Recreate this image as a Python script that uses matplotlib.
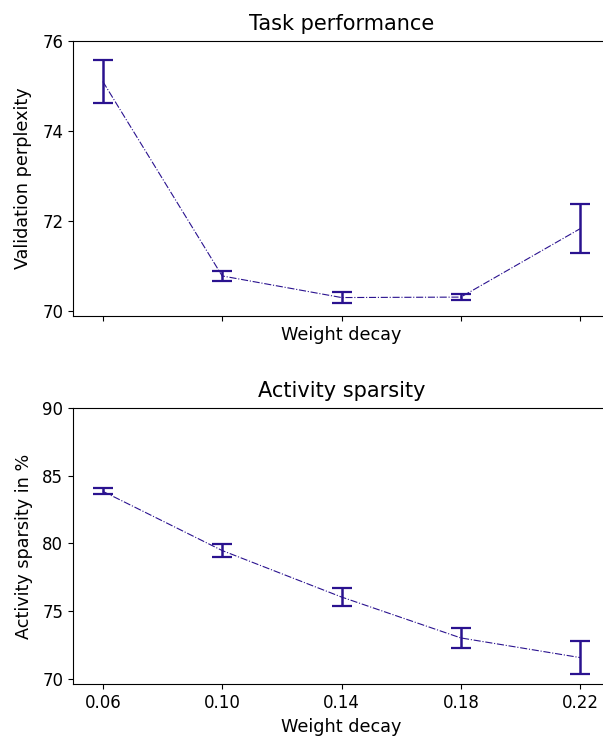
import matplotlib
matplotlib.use("Agg")
import matplotlib.pyplot as plt

weight_decay = [0.06, 0.10, 0.14, 0.18, 0.22]
perplexity_mean = [75.10, 70.78, 70.30, 70.31, 71.83]
perplexity_err = [0.48, 0.12, 0.12, 0.07, 0.55]
sparsity_mean = [83.85, 79.48, 76.05, 73.03, 71.58]
sparsity_err = [0.22, 0.48, 0.66, 0.74, 1.22]
xtick_labels = ["0.06", "0.10", "0.14", "0.18", "0.22"]

color = "#2a128f"

fig = plt.figure(figsize=(6.03, 7.36), dpi=100)
left = 73 / 603
width = 537 / 603
ax1 = fig.add_axes([left, 1 - 316 / 736, width, 275 / 736])
ax2 = fig.add_axes([left, 1 - 684 / 736, width, 276 / 736], sharex=ax1)

for ax, m, e in [(ax1, perplexity_mean, perplexity_err), (ax2, sparsity_mean, sparsity_err)]:
    ax.errorbar(weight_decay, m, yerr=e, color=color, linestyle="-.", linewidth=0.8,
                elinewidth=1.8, capsize=7, capthick=1.6)
    ax.spines["right"].set_visible(False)
    ax.tick_params(labelsize=12)

ax1.set_xlim(0.05, 0.23)
ax1.set_xticks(weight_decay)
ax1.tick_params(axis="x", labelbottom=False)
ax2.set_xticklabels(xtick_labels)

ax1.set_ylim(69.89, 76)
ax1.set_yticks([70, 72, 74, 76])
ax2.set_ylim(69.63, 90)
ax2.set_yticks([70, 75, 80, 85, 90])

ax1.set_title("Task performance", fontsize=15, pad=8)
ax2.set_title("Activity sparsity", fontsize=15, pad=8)
ax1.set_xlabel("Weight decay", fontsize=12.7)
ax2.set_xlabel("Weight decay", fontsize=12.7, labelpad=4.5)
ax1.set_ylabel("Validation perplexity", fontsize=12.7, labelpad=7)
ax2.set_ylabel("Activity sparsity in %", fontsize=12.7, labelpad=7)

fig.savefig("out.png", dpi=100)
